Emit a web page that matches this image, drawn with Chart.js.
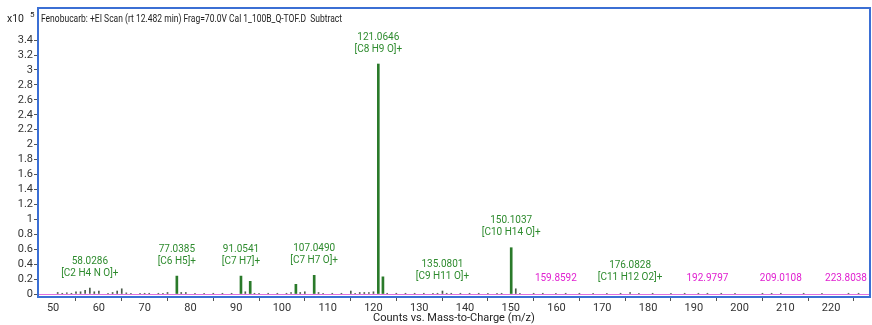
<!DOCTYPE html>
<html><head><meta charset="utf-8">
<script src="https://cdn.jsdelivr.net/npm/chart.js@4/dist/chart.umd.min.js"></script>
<style>html,body{margin:0;padding:0;background:#fff}#wrap{width:872px;height:325px}</style>
</head><body><div id="wrap"><canvas id="c" width="872" height="325"></canvas></div>
<script>
const TITLE = 'Fenobucarb: +EI Scan (rt 12.482 min) Frag=70.0V Cal 1_100B_Q-TOF.D  Subtract';
const X_TITLE = 'Counts vs. Mass-to-Charge (m/z)';
const xTicks = [50,60,70,80,90,100,110,120,130,140,150,160,170,180,190,200,210,220];
const yTicks = [0,0.2,0.4,0.6,0.8,1,1.2,1.4,1.6,1.8,2,2.2,2.4,2.6,2.8,3,3.2,3.4];
// major peaks (x10^5 counts)
const majorMz  = [77.04, 91.05, 93.07, 103.05, 107.05, 121.06, 122.07, 150.10];
const majorInt = [0.24, 0.24, 0.17, 0.13, 0.25, 3.08, 0.23, 0.62];
// minor peaks
const minorMz  = [51.0,52.0,53.0,54.0,55.0,56.0,57.0,58.03,59.0,60.0,62.0,63.0,64.0,65.0,66.0,67.0,69.0,70.0,71.0,73.0,74.0,75.0,78.0,79.0,81.0,83.0,85.0,87.0,89.0,92.0,94.0,95.0,97.0,99.0,101.0,102.0,104.0,105.0,108.0,109.0,111.0,113.0,115.05,116.0,117.0,118.0,119.0,120.0,123.0,125.0,127.0,129.0,131.0,133.0,134.0,135.08,136.0,137.0,139.0,141.0,143.0,145.0,147.0,148.0,151.1,152.0,155.0,157.0,159.86,162.0,165.0,168.0,171.0,174.0,176.08,178.0,181.0,185.0,188.0,191.0,192.98,196.0,199.0,205.0,207.0,209.01,214.0,218.0,223.8,226.0];
const minorInt = [0.02,0.01,0.015,0.01,0.03,0.03,0.05,0.08,0.03,0.04,0.01,0.02,0.04,0.07,0.015,0.01,0.01,0.01,0.01,0.01,0.01,0.02,0.02,0.02,0.01,0.01,0.01,0.01,0.01,0.03,0.01,0.01,0.01,0.01,0.01,0.02,0.02,0.03,0.02,0.01,0.01,0.01,0.04,0.01,0.02,0.02,0.02,0.03,0.01,0.01,0.01,0.01,0.01,0.01,0.01,0.04,0.01,0.01,0.01,0.01,0.01,0.01,0.01,0.01,0.07,0.01,0.01,0.01,0.01,0.01,0.01,0.01,0.01,0.01,0.02,0.01,0.01,0.01,0.01,0.01,0.01,0.01,0.01,0.01,0.01,0.01,0.01,0.01,0.01,0.01];
// annotations
const annMz      = [58.0286, 77.0385, 91.0541, 107.0490, 121.0646, 135.0801, 150.1037, 159.8592, 176.0828, 192.9797, 209.0108, 223.8038];
const annInt     = [0.08, 0.24, 0.24, 0.25, 3.08, 0.04, 0.62, 0.01, 0.02, 0.01, 0.01, 0.01];
const annFormula = ['[C2 H4 N O]+','[C6 H5]+','[C7 H7]+','[C7 H7 O]+','[C8 H9 O]+','[C9 H11 O]+','[C10 H14 O]+','','[C11 H12 O2]+','','',''];
const annIdentified = [true,true,true,true,true,true,true,false,true,false,false,false];

const FONT = '"Roboto", "Liberation Sans", sans-serif';
const BLUE = '#3b6fd4';

const toXY = (xs, ys) => xs.map((x,i)=>({x:x, y:ys[i]}));

const decor = {
  id:'decor',
  beforeDatasetsDraw(chart){
    const {ctx, chartArea:a, scales:{y}} = chart;
    ctx.save();
    const y0 = y.getPixelForValue(0);
    ctx.strokeStyle = '#e070e0'; ctx.lineWidth = 1;
    ctx.beginPath(); ctx.moveTo(a.left, y0+0.5); ctx.lineTo(a.right, y0+0.5); ctx.stroke();
    ctx.restore();
  },
  afterDraw(chart){
    const {ctx, chartArea:a, scales:{x,y}} = chart;
    ctx.save();
    ctx.strokeStyle = BLUE; ctx.lineWidth = 2;
    ctx.strokeRect(a.left, a.top, a.right-a.left, a.bottom-a.top);
    ctx.fillStyle = '#222'; ctx.font = '10.5px ' + FONT; ctx.textBaseline='middle'; ctx.textAlign='left';
    ctx.save();
    ctx.translate(a.left+3, a.top+11);
    ctx.scale(0.81, 1);
    ctx.fillText(TITLE, 0, 0);
    ctx.restore();
    ctx.fillText('x10', 7, a.top+11);
    ctx.font = '8px ' + FONT; ctx.fillText('5', 30, a.top+7);
    ctx.textAlign='center'; ctx.textBaseline='middle';
    annMz.forEach((m,i)=>{
      const px = x.getPixelForValue(m);
      const py = y.getPixelForValue(annInt[i]) - 15;
      ctx.fillStyle = annIdentified[i] ? '#2e8b2e' : '#e020d0';
      ctx.font = '10px ' + FONT;
      if (annFormula[i]) {
        ctx.fillText(annFormula[i], px, py);
        ctx.fillText(m.toFixed(4), px, py-12);
      } else {
        ctx.fillText(m.toFixed(4), Math.min(px, a.right - 24), py);
      }
    });
    ctx.restore();
  }
};

new Chart(document.getElementById('c'), {
  type:'bar',
  data:{datasets:[
    {data: toXY(minorMz, minorInt), backgroundColor:'#4a5a4a', barThickness:1, grouped:false},
    {data: toXY(majorMz, majorInt), backgroundColor:'#2a7a2a', barThickness:2, grouped:false}
  ]},
  plugins:[decor],
  options:{
    responsive:false, animation:false,
    layout:{padding:{top:8, right:2, left:0, bottom:0}},
    plugins:{legend:{display:false}, tooltip:{enabled:false}},
    scales:{
      x:{type:'linear', min:46.7, max:228.5, offset:false,
        afterBuildTicks(s){ s.ticks = xTicks.map(v=>({value:v})); },
        afterFit(s){ s.height = 28; },
        grid:{display:true, drawOnChartArea:false, drawTicks:true, tickLength:4, color:'#555'},
        border:{display:false},
        ticks:{color:'#333', font:{family:FONT, size:11}, padding:1, maxRotation:0, autoSkip:false, callback:v=>String(v)},
        title:{display:true, text:X_TITLE, color:'#222', font:{family:FONT, size:11}, padding:{top:0,bottom:0}}
      },
      y:{type:'linear', min:-0.04, max:3.83,
        afterBuildTicks(s){ s.ticks = yTicks.map(v=>({value:v})); },
        afterFit(s){ s.width = 38; },
        grid:{display:true, drawOnChartArea:false, drawTicks:true, tickLength:4, color:'#555'},
        border:{display:false},
        ticks:{color:'#333', font:{family:FONT, size:11}, padding:1, autoSkip:false, callback:v=>String(Math.round(v*10)/10)}
      }
    }
  }
});
</script></body></html>
